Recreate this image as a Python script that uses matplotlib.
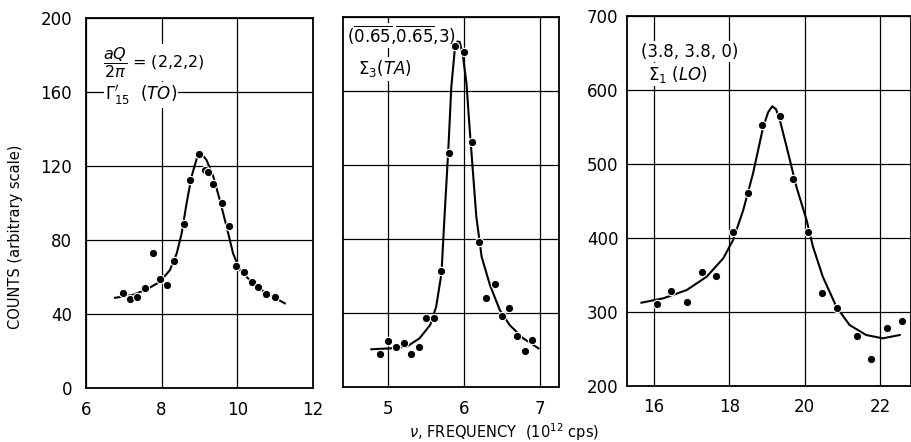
import matplotlib.pyplot as plt

# panel 1: (2,2,2) Gamma'15 (TO)
to_freq = [6.97, 7.16, 7.36, 7.56, 7.78, 7.96, 8.15, 8.33, 8.58, 8.75, 8.99, 9.15, 9.22,
           9.37, 9.59, 9.77, 9.98, 10.18, 10.38, 10.56, 10.77, 11.0]
to_counts = [51.2, 48.0, 49.4, 53.9, 72.8, 58.7, 55.7, 68.8, 88.6, 112.4, 126.5, 118.0, 117.0,
             110.3, 99.8, 87.7, 65.9, 62.9, 57.1, 54.8, 50.8, 49.0]
to_fit_freq = [6.77, 7.23, 7.60, 7.96, 8.22, 8.40, 8.53, 8.66, 8.79, 8.93, 9.01, 9.09, 9.19,
               9.37, 9.54, 9.72, 9.89, 10.07, 10.42, 10.77, 11.26]
to_fit_counts = [48.8, 50.3, 53.3, 57.5, 63.8, 72.8, 83.6, 99.8, 114.2, 124.1, 126.8, 125.8,
                 123.2, 114.2, 101.6, 87.2, 72.8, 63.8, 56.6, 51.2, 45.8]

# panel 2: (0.65,0.65,3) Sigma3 (TA)
ta_freq = [4.885, 5.0, 5.10, 5.21, 5.30, 5.40, 5.49, 5.60, 5.70, 5.80, 5.885, 6.00, 6.10,
           6.19, 6.29, 6.40, 6.50, 6.59, 6.70, 6.80, 6.89]
ta_counts = [17.8, 25.0, 21.8, 23.6, 17.7, 21.8, 37.1, 37.1, 62.9, 126.3, 184.3, 181.3, 132.3,
             78.6, 48.3, 55.7, 38.4, 42.5, 27.6, 19.6, 25.4]
ta_fit_freq = [4.775, 5.02, 5.24, 5.41, 5.55, 5.63, 5.70, 5.74, 5.79, 5.83, 5.875, 5.91, 5.94,
               5.98, 6.03, 6.07, 6.12, 6.16, 6.23, 6.34, 6.47, 6.60, 6.78, 6.98]
ta_fit_counts = [20.4, 20.9, 21.8, 26.3, 33.5, 43.4, 61.4, 92.1, 128.1, 162.3, 182.2, 186.8,
                 186.6, 180.0, 164.2, 140.7, 113.7, 92.1, 70.4, 55.1, 41.6, 33.5, 26.3, 20.9]

# panel 3: (3.8,3.8,0) Sigma1 (LO)
lo_freq = [16.07, 16.45, 16.87, 17.28, 17.66, 18.10, 18.49, 18.88, 19.34, 19.69, 20.10, 20.46,
           20.87, 21.39, 21.77, 22.18, 22.58]
lo_counts = [310.4, 328.4, 313.9, 354.5, 348.6, 408.5, 461.3, 552.7, 564.9, 479.7, 407.7,
             325.3, 305.8, 268.0, 236.0, 278.8, 287.8]
lo_fit_freq = [15.67, 16.25, 16.87, 17.40, 17.84, 18.10, 18.37, 18.63, 18.90, 19.03, 19.14,
               19.24, 19.34, 19.52, 19.78, 20.05, 20.22, 20.48, 20.84, 21.19, 21.63, 22.07, 22.52]
lo_fit_counts = [312.6, 318.5, 329.7, 347.7, 372.6, 397.3, 437.8, 487.4, 550.4, 570.0, 578.0,
                 574.0, 559.5, 523.4, 469.3, 424.3, 388.2, 347.7, 307.2, 282.4, 268.9, 264.4, 268.9]

to_xticks = [6, 8, 10, 12]
ta_xticks = [5, 6, 7]
lo_xticks = [16, 18, 20, 22]
to_yticks = [0, 40, 80, 120, 160, 200]
lo_yticks = [200, 300, 400, 500, 600, 700]


def panel(ax, freq, counts, fit_freq, fit_counts, xlim, ylim, xticks, yticks, ylabels, ypad):
    ax.plot(fit_freq, fit_counts, color='black', lw=1.5, zorder=3)
    ax.plot(freq, counts, 'o', color='black', ms=6, mec='white', mew=0.8, zorder=4)
    ax.set_xlim(xlim)
    ax.set_ylim(ylim)
    ax.set_xticks(xticks)
    ax.set_yticks(yticks)
    if not ylabels:
        ax.set_yticklabels([])
    ax.grid(True, color='black', lw=0.9)
    ax.set_axisbelow(True)
    ax.tick_params(length=0, labelsize=12)
    ax.tick_params(axis='x', pad=9)
    ax.tick_params(axis='y', pad=ypad)
    for s in ax.spines.values():
        s.set_linewidth(1.3)


fig = plt.figure(figsize=(9.11, 4.42), dpi=100)
ax1 = fig.add_axes([0.0944, 0.122, 0.249, 0.837])
ax2 = fig.add_axes([0.3765, 0.1244, 0.237, 0.837])
ax3 = fig.add_axes([0.688, 0.1267, 0.312, 0.837])

panel(ax1, to_freq, to_counts, to_fit_freq, to_fit_counts, (6, 12), (0, 200),
      to_xticks, to_yticks, True, 10)
panel(ax2, ta_freq, ta_counts, ta_fit_freq, ta_fit_counts, (4.4, 7.25), (0, 200),
      ta_xticks, to_yticks, False, 6)
panel(ax3, lo_freq, lo_counts, lo_fit_freq, lo_fit_counts, (15.28, 22.82), (200, 700),
      lo_xticks, lo_yticks, True, 6)

# white boxes hide the grid under the labels, but stay under the curves
box = dict(facecolor='white', edgecolor='none', pad=1.0)
ax1.text(6.45, 176, r'$\dfrac{aQ}{2\pi}$ = (2,2,2)', fontsize=11.5, va='center', ha='left',
         bbox=box, zorder=2)
ax1.text(6.5, 158.5, r"$\Gamma^{\prime}_{15}$  ($TO$)", fontsize=12, va='center', ha='left',
         bbox=box, zorder=2)
ax2.text(4.45, 190, r'($\overline{0.65}$,$\overline{0.65}$,3)', fontsize=12, va='center',
         ha='left', bbox=box, zorder=2)
ax2.text(4.6, 172, r'$\Sigma_3$($TA$)', fontsize=12, va='center', ha='left',
         bbox=box, zorder=2)
ax3.text(15.67, 652, '(3.8, 3.8, 0)', fontsize=12, va='center', ha='left',
         bbox=box, zorder=2)
ax3.text(15.85, 621, r'$\Sigma_1$ ($LO$)', fontsize=12, va='center', ha='left',
         bbox=box, zorder=2)

fig.text(0.017, 0.465, 'COUNTS (arbitrary scale)', rotation=90, fontsize=10.5,
         ha='center', va='center')
fig.text(0.553, 0.022, r'$\nu$, FREQUENCY  (10$^{12}$ cps)', fontsize=10.5,
         ha='center', va='center')

plt.savefig('out.png', dpi=100)
plt.close()
